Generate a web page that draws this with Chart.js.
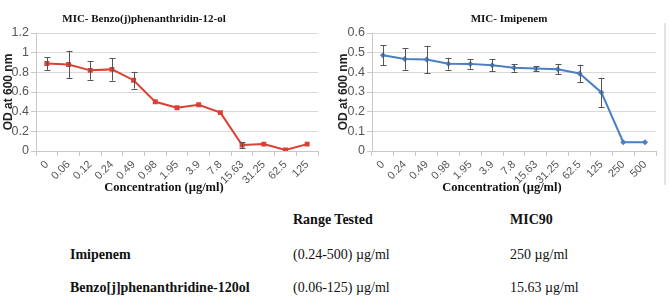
<!DOCTYPE html>
<html>
<head>
<meta charset="utf-8">
<script src="https://cdn.jsdelivr.net/npm/chart.js@4/dist/chart.umd.min.js"></script>
<style>
  html, body { margin:0; padding:0; background:#fff; }
  body { width:669px; height:301px; position:relative; overflow:hidden; font-family:'Liberation Serif', serif; }
  .cv { position:absolute; top:0; }
  .ttl { position:absolute; font-family:'Liberation Serif', serif; font-weight:bold; font-size:11px; color:#111; white-space:nowrap; transform:translate(-50%,-50%); }
  .xt { position:absolute; font-family:'Liberation Serif', serif; font-weight:bold; font-size:12.5px; color:#111; white-space:nowrap; transform:translate(-50%,-50%); }
  .tb { position:absolute; font-family:'Liberation Serif', serif; font-size:14px; color:#111; white-space:nowrap; transform:translateY(-50%); }
  .b { font-weight:bold; }
  .edge { position:absolute; left:664px; top:23px; width:2px; height:162px; background:#e3e3e3; }
</style>
</head>
<body>
<div class="cv" style="left:0;width:335px;height:200px;"><canvas id="c1" width="335" height="200"></canvas></div>
<div class="cv" style="left:335px;width:334px;height:200px;"><canvas id="c2" width="334" height="200"></canvas></div>
<div class="edge"></div>
<div class="ttl" style="left:144px;top:18px;">MIC- Benzo(j)phenanthridin-12-ol</div>
<div class="ttl" style="left:509px;top:18px;">MIC- Imipenem</div>
<div class="xt" style="left:164px;top:187px;">Concentration (µg/ml)</div>
<div class="xt" style="left:502px;top:187px;">Concentration (µg/ml)</div>

<div class="tb b" style="left:293px;top:220px;">Range Tested</div>
<div class="tb b" style="left:510px;top:220px;">MIC90</div>
<div class="tb b" style="left:70px;top:255px;">Imipenem</div>
<div class="tb" style="left:293px;top:255px;">(0.24-500) µg/ml</div>
<div class="tb" style="left:510px;top:255px;">250 µg/ml</div>
<div class="tb b" style="left:70px;top:288px;">Benzo[j]phenanthridine-120ol</div>
<div class="tb" style="left:293px;top:288px;">(0.06-125) µg/ml</div>
<div class="tb" style="left:510px;top:288px;">15.63 µg/ml</div>

<script>
// ---- Data ----
const benzoConcentrations = ['0','0.06','0.12','0.24','0.49','0.98','1.95','3.9','7.8','15.63','31.25','62.5','125'];
const benzoOD = [0.89, 0.88, 0.82, 0.83, 0.72, 0.50, 0.44, 0.47, 0.39, 0.06, 0.07, 0.01, 0.07];
const benzoErr = [0.065, 0.14, 0.095, 0.115, 0.085, 0, 0, 0, 0, 0.03, 0, 0, 0];

const imipenemConcentrations = ['0','0.24','0.49','0.98','1.95','3.9','7.8','15.63','31.25','62.5','125','250','500'];
const imipenemOD = [0.487, 0.468, 0.465, 0.444, 0.443, 0.436, 0.423, 0.420, 0.416, 0.394, 0.298, 0.045, 0.045];
const imipenemErr = [0.05, 0.055, 0.07, 0.03, 0.025, 0.03, 0.02, 0.012, 0.027, 0.045, 0.075, 0, 0];

const benzoYTicks = {min:0, max:1.2, step:0.2};
const imipenemYTicks = {min:0, max:0.6, step:0.1};

// ---- Error bar plugin ----
const errorBars = {
  id: 'errorBars',
  afterDatasetsDraw(chart) {
    const ctx = chart.ctx;
    const ys = chart.scales.y;
    chart.data.datasets.forEach((ds, di) => {
      const meta = chart.getDatasetMeta(di);
      const errs = ds.errors || [];
      ctx.save();
      ctx.strokeStyle = '#555';
      ctx.lineWidth = 1;
      meta.data.forEach((pt, i) => {
        const e = errs[i];
        if (!e) return;
        const v = ds.data[i];
        const x = Math.round(pt.x) + 0.5;
        const yt = ys.getPixelForValue(v + e);
        const yb = ys.getPixelForValue(v - e);
        ctx.beginPath();
        ctx.moveTo(x, yt); ctx.lineTo(x, yb);
        ctx.moveTo(x - 3, Math.round(yt) + 0.5); ctx.lineTo(x + 3, Math.round(yt) + 0.5);
        ctx.moveTo(x - 3, Math.round(yb) + 0.5); ctx.lineTo(x + 3, Math.round(yb) + 0.5);
        ctx.stroke();
      });
      ctx.restore();
    });
  }
};

function makeChart(id, labels, data, errs, yt, color, pointStyle, pointRadius, yWidth, padRight) {
  return new Chart(document.getElementById(id), {
    type: 'line',
    data: {
      labels: labels,
      datasets: [{
        data: data,
        errors: errs,
        borderColor: color,
        backgroundColor: color,
        borderWidth: 2,
        pointStyle: pointStyle,
        pointRadius: pointRadius,
        pointHoverRadius: pointRadius,
        pointBorderWidth: 0,
        tension: 0
      }]
    },
    options: {
      responsive: false,
      animation: false,
      events: [],
      layout: { padding: { top: 33, left: 0, right: padRight, bottom: 0 } },
      plugins: { legend: { display: false }, tooltip: { enabled: false }, title: { display: false } },
      scales: {
        x: {
          type: 'category',
          offset: true,
          grid: { display: true, drawOnChartArea: false, drawTicks: true, tickLength: 5, offset: true, tickColor: '#c8c8c8' },
          border: { display: true, color: '#c8c8c8', width: 1 },
          ticks: { minRotation: 45, maxRotation: 45, autoSkip: false, padding: 2, color: '#555', font: { family: 'Liberation Sans', size: 11 } },
          afterFit: s => { s.height = 49; }
        },
        y: {
          min: yt.min, max: yt.max,
          grid: { color: '#d9d9d9', tickLength: 5, tickColor: '#c8c8c8' },
          border: { display: true, color: '#c8c8c8', width: 1 },
          ticks: {
            stepSize: yt.step, padding: 2, color: '#555',
            font: { family: 'Liberation Sans', size: 12.5 },
            callback: v => String(parseFloat(Number(v).toFixed(3)))
          },
          title: { display: true, text: 'OD at 600 nm', color: '#222', padding: { top: 1, bottom: 0 }, font: { family: 'Liberation Sans', size: 12, weight: 'bold' } },
          afterFit: s => { s.width = yWidth; }
        }
      }
    },
    plugins: [errorBars]
  });
}

makeChart('c1', benzoConcentrations, benzoOD, benzoErr, benzoYTicks, '#dc3f33', 'rect', 3.5, 36, 17);
makeChart('c2', imipenemConcentrations, imipenemOD, imipenemErr, imipenemYTicks, '#4a7fc1', 'rectRot', 3, 37, 13);
</script>
</body>
</html>
